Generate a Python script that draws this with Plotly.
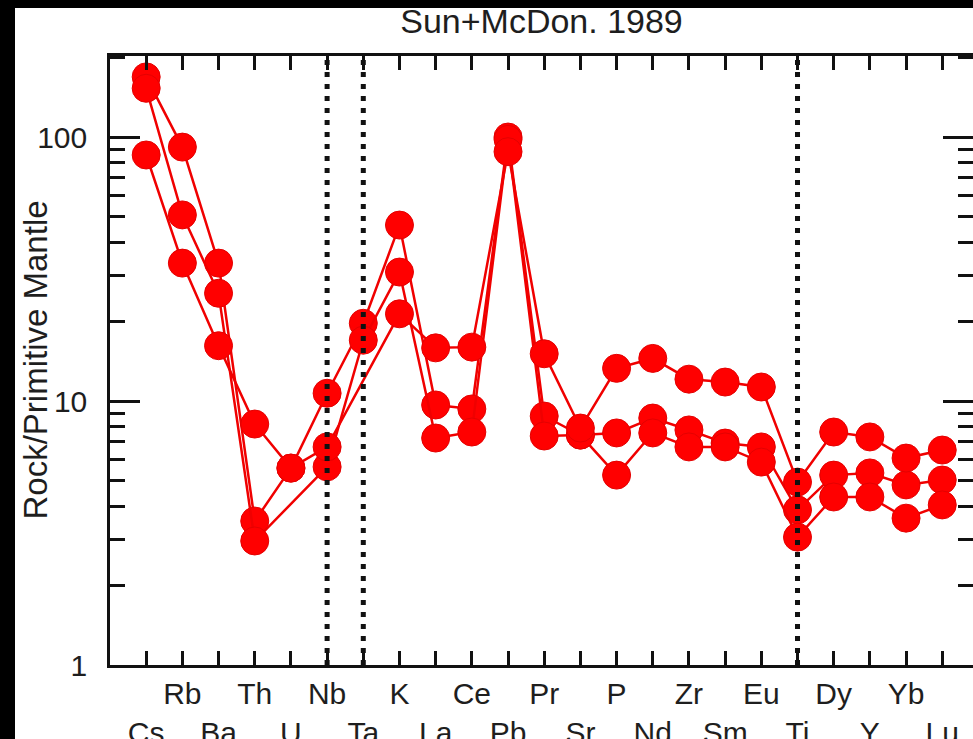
import plotly.graph_objects as go

elements = ["Cs", "Rb", "Ba", "Th", "U", "Nb", "Ta", "K", "La", "Ce", "Pb", "Pr",
            "Sr", "P", "Nd", "Zr", "Sm", "Eu", "Ti", "Dy", "Y", "Yb", "Lu"]

sample_a = [169, 91.6, 33.3, 3.51, 5.57, 10.7, 19.7, 46.4, 9.66, 9.33, 100, 8.77,
            7.43, 7.57, 8.62, 7.77, 6.93, 6.7, 3.87, 5.24, 5.34, 4.81, 5.02]
sample_b = [153, 50.7, 25.6, 2.95, None, 5.63, 17.0, 30.8, 7.24, 7.63, 98, 7.37,
            7.43, 5.24, 7.57, 6.7, 6.7, 5.87, 3.05, 4.33, 4.33, 3.6, 4.04]
sample_c = [85.5, 33.3, 16.2, 8.18, 5.57, 6.7, None, 21.4, 15.9, 16.0, 88, 15.1,
            7.9, 13.3, 14.5, 12.1, 11.8, 11.3, 4.93, 7.63, 7.31, 6.08, 6.52]

divider_elements = ["Nb", "Ta", "Ti"]

title_text = "Sun+McDon. 1989"
y_title = "Rock/Primitive Mantle"

FONT = "Liberation Sans, Arial, Helvetica, sans-serif"
TXT = "#1e1e1e"

fig = go.Figure()
xs = list(range(len(elements)))
for series in (sample_a, sample_b, sample_c):
    px = [x for x, v in zip(xs, series) if v is not None]
    py = [v for v in series if v is not None]
    fig.add_trace(go.Scatter(
        x=px, y=py, mode="lines+markers",
        line=dict(color="#f00000", width=2.5),
        marker=dict(size=28, color="#ff0000", line=dict(color="#e40000", width=1)),
        showlegend=False, hoverinfo="skip"))

for el in divider_elements:
    xi = elements.index(el)
    fig.add_shape(type="line", xref="x", yref="paper", x0=xi, x1=xi, y0=0, y1=1,
                  line=dict(color="#111111", width=5, dash="5px,7px"), layer="above")

ticktext = [e if i % 2 == 1 else "<br>" + e for i, e in enumerate(elements)]

minor_vals = [m * 10 ** e for e in (0, 1, 2) for m in range(2, 10) if m * 10 ** e <= 200]

# black borders of the scanned figure
fig.add_shape(type="rect", xref="paper", yref="paper", x0=-0.2, x1=(15 - 110) / 863,
              y0=-0.2, y1=1.2, fillcolor="black", line=dict(width=0), layer="above")
fig.add_shape(type="rect", xref="paper", yref="paper", x0=-0.2, x1=1.2,
              y0=(665 - 8) / 609, y1=1.2, fillcolor="black", line=dict(width=0), layer="above")

fig.add_annotation(text=y_title, xref="paper", yref="paper", x=(35 - 110) / 863, y=0.5,
                   textangle=-90, showarrow=False, xanchor="center", yanchor="middle",
                   font=dict(family=FONT, size=33, color=TXT))

fig.update_layout(
    width=973, height=739,
    margin=dict(l=110, r=0, t=56, b=74),
    paper_bgcolor="white", plot_bgcolor="white",
    title=dict(text=title_text, x=0.5, xref="paper", xanchor="center",
               y=1 - 21 / 739, yanchor="middle",
               font=dict(family=FONT, size=34, color=TXT)),
    font=dict(family=FONT, size=30, color=TXT),
    xaxis=dict(range=[-1, 22.85], tickmode="array", tickvals=xs, ticktext=ticktext,
               tickangle=0, automargin=False,
               ticks="inside", ticklen=14, tickwidth=2.5, tickcolor="#111",
               showline=True, linecolor="#111", linewidth=2.5, mirror="ticks",
               showgrid=False, zeroline=False, ticklabelstandoff=0,
               tickfont=dict(family=FONT, size=30, color=TXT)),
    yaxis=dict(type="log", range=[0, 2.307], tickmode="array", tickvals=[1, 10, 100],
               ticktext=["1", "10", "100"], automargin=False,
               ticks="inside", ticklen=30, tickwidth=2.5, tickcolor="#111",
               showline=True, linecolor="#111", linewidth=2.5, mirror="ticks",
               showgrid=False, zeroline=False, ticklabelstandoff=14,
               tickfont=dict(family=FONT, size=30, color=TXT),
               minor=dict(tickmode="array", tickvals=minor_vals, ticks="inside",
                          ticklen=15, tickwidth=2.5, tickcolor="#111", showgrid=False)),
)

fig.write_html("out.html")
